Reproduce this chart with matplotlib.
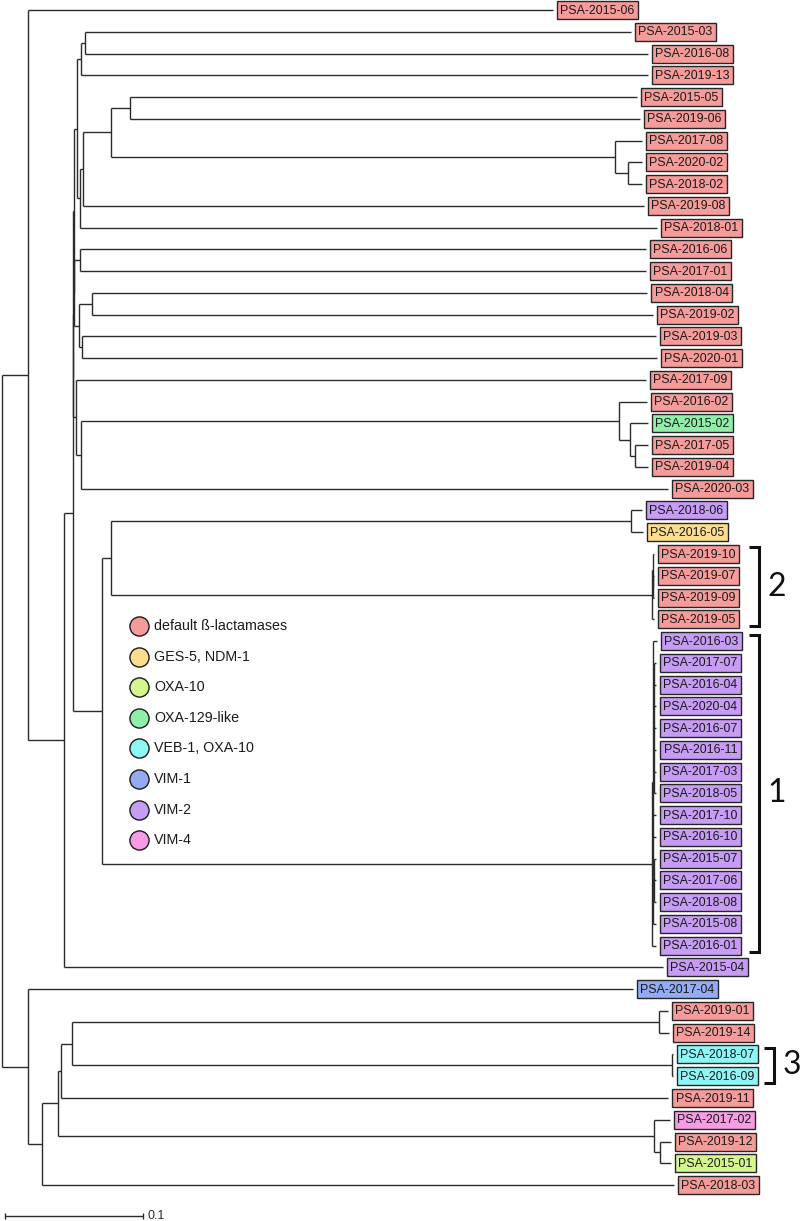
import matplotlib
matplotlib.use("Agg")
import matplotlib.pyplot as plt
from matplotlib.patches import Rectangle

# ---------------- data ----------------
tip_names = [
    "PSA-2015-06", "PSA-2015-03", "PSA-2016-08", "PSA-2019-13", "PSA-2015-05",
    "PSA-2019-06", "PSA-2017-08", "PSA-2020-02", "PSA-2018-02", "PSA-2019-08",
    "PSA-2018-01", "PSA-2016-06", "PSA-2017-01", "PSA-2018-04", "PSA-2019-02",
    "PSA-2019-03", "PSA-2020-01", "PSA-2017-09", "PSA-2016-02", "PSA-2015-02",
    "PSA-2017-05", "PSA-2019-04", "PSA-2020-03", "PSA-2018-06", "PSA-2016-05",
    "PSA-2019-10", "PSA-2019-07", "PSA-2019-09", "PSA-2019-05", "PSA-2016-03",
    "PSA-2017-07", "PSA-2016-04", "PSA-2020-04", "PSA-2016-07", "PSA-2016-11",
    "PSA-2017-03", "PSA-2018-05", "PSA-2017-10", "PSA-2016-10", "PSA-2015-07",
    "PSA-2017-06", "PSA-2018-08", "PSA-2015-08", "PSA-2016-01", "PSA-2015-04",
    "PSA-2017-04", "PSA-2019-01", "PSA-2019-14", "PSA-2018-07", "PSA-2016-09",
    "PSA-2019-11", "PSA-2017-02", "PSA-2019-12", "PSA-2015-01", "PSA-2018-03",
]
tip_parents = [
    "A", "Na", "Na", "Nb", "Nc",
    "Nc", "Ne", "Nd", "Nd", "Ng",
    "Nh", "Nj", "Nj", "Nk", "Nk",
    "Nl", "Nl", "P1", "Nq", "Np",
    "No", "No", "Nr", "Npair", "Npair",
    "G2b", "G2a", "G2a", "G2", "X1",
    "S1", "S1", "S1", "S1", "S1",
    "S1", "S1", "X1", "X1", "S2",
    "S2", "S2", "X1", "G1", "B",
    "F", "Ns1", "Ns1", "Ns2", "Ns2",
    "I", "K", "K2", "K2", "G",
]
tip_depths = [
    0.3993, 0.4558, 0.4681, 0.4681, 0.4601,
    0.4623, 0.4638, 0.4638, 0.4638, 0.4652,
    0.4746, 0.4667, 0.4667, 0.4674, 0.4717,
    0.4739, 0.4746, 0.4667, 0.4674, 0.4681,
    0.4681, 0.4681, 0.4826, 0.4638, 0.4645,
    0.4722, 0.4722, 0.4722, 0.4722, 0.4746,
    0.4739, 0.4739, 0.4739, 0.4739, 0.4739,
    0.4739, 0.4739, 0.4739, 0.4739, 0.4739,
    0.4739, 0.4739, 0.4739, 0.4739, 0.4790,
    0.4572, 0.4826, 0.4833, 0.4862, 0.4862,
    0.4826, 0.4841, 0.4848, 0.4848, 0.4870,
]
tip_classes = (
    ["default ß-lactamases"] * 19 + ["OXA-129-like"] + ["default ß-lactamases"] * 3
    + ["VIM-2", "GES-5, NDM-1"] + ["default ß-lactamases"] * 4 + ["VIM-2"] * 16
    + ["VIM-1", "default ß-lactamases", "default ß-lactamases",
       "VEB-1, OXA-10", "VEB-1, OXA-10", "default ß-lactamases",
       "VIM-4", "default ß-lactamases", "OXA-10", "default ß-lactamases"]
)

node_names = ["R", "A", "B", "C", "U", "Q2", "Ni", "Nb", "Na", "Nh", "Ng", "Nf",
              "Nc", "Ne", "Nd", "Nn", "Nj", "Nm", "Nk", "Nl", "P1", "Nr", "Nq",
              "Np", "No", "D", "E", "Npair", "G2", "G2b", "G2a", "G1", "X1",
              "S1", "S2", "F", "G", "H", "I", "J", "Ns1", "Ns2", "K", "K2"]
node_parents = [None, "R", "A", "B", "C", "U", "Q2", "Ni", "Nb", "Ni", "Nh", "Ng",
                "Nf", "Nf", "Ne", "Q2", "Nn", "Nn", "Nm", "Nm", "U", "P1", "Nr",
                "Nq", "Np", "C", "D", "E", "E", "G2", "G2b", "D", "G1",
                "X1", "X1", "R", "F", "G", "H", "I", "J", "J", "H", "K"]
node_depths = [0.0, 0.0188, 0.0449, 0.0514, 0.0518, 0.0522, 0.0543, 0.0572, 0.0601,
               0.0565, 0.0587, 0.0790, 0.0928, 0.4442, 0.4536, 0.0525, 0.0565,
               0.0558, 0.0652, 0.0580, 0.0536, 0.0572, 0.4471, 0.4551, 0.4587,
               0.0725, 0.0790, 0.4558, 0.4710, 0.4714, 0.4717, 0.4710, 0.4717,
               0.4728, 0.4725, 0.0188, 0.0290, 0.0406, 0.0428, 0.0507, 0.4761,
               0.4855, 0.4725, 0.4768]

legend_labels = ["default ß-lactamases", "GES-5, NDM-1", "OXA-10", "OXA-129-like",
                 "VEB-1, OXA-10", "VIM-1", "VIM-2", "VIM-4"]
legend_colors = ["#F59C9A", "#FCDD90", "#D5F58F", "#90EEA9", "#8FF6F6",
                 "#92ABF3", "#C79CF4", "#F59CE5"]

bracket_labels = ["2", "1", "3"]
bracket_first = ["PSA-2019-10", "PSA-2016-03", "PSA-2018-07"]
bracket_last = ["PSA-2019-05", "PSA-2016-01", "PSA-2016-09"]
scale_value = 0.1

# ---------------- layout ----------------
W, H = 800, 1221
PX = 1380.0          # pixels per unit of distance
ROOT_PX = 2.0
TIP0_PX = 10.0
STEP_PX = 21.76

fig = plt.figure(figsize=(W / 100, H / 100), dpi=100)
ax = fig.add_axes([0, 0, 1, 1])
ax.set_xlim(-ROOT_PX / PX, (W - ROOT_PX) / PX)
ax.set_ylim((H - TIP0_PX) / STEP_PX, -TIP0_PX / STEP_PX)
ax.axis("off")

def px(v):
    return v / PX

def py(v):
    return v / STEP_PX

# tree geometry
depth = dict(zip(node_names, node_depths))
parent = dict(zip(node_names, node_parents))
children = {n: [] for n in node_names}
ypos = {}
for i, (t, p, d) in enumerate(zip(tip_names, tip_parents, tip_depths)):
    depth[t] = d
    parent[t] = p
    children[p].append(t)
    ypos[t] = i
for n in node_names:
    for c in node_names:
        if parent[c] == n:
            children[n].append(c)

def get_y(n):
    if n in ypos:
        return ypos[n]
    ys = [get_y(c) for c in children[n]]
    ypos[n] = (min(ys) + max(ys)) / 2
    return ypos[n]

get_y("R")

line_kw = dict(color="#2b2b2b", lw=1.0)
for n, p in parent.items():
    if p is None:
        continue
    ax.hlines(ypos[n], depth[p], depth[n], **line_kw)
for n in node_names:
    ys = [ypos[c] for c in children[n]]
    ax.vlines(depth[n], min(ys), max(ys), **line_kw)

# tip labels
cmap = dict(zip(legend_labels, legend_colors))
box_w = px(81)
box_h = py(18)
gap = px(4)
for i, (t, d, c) in enumerate(zip(tip_names, tip_depths, tip_classes)):
    x0 = d + gap
    ax.add_patch(Rectangle((x0, i - box_h / 2), box_w, box_h,
                           facecolor=cmap[c], edgecolor="#262626", lw=1.0, zorder=3))
    ax.text(x0 + box_w / 2, i + py(0.5), t, ha="center", va="center",
            fontsize=8.9, family="Liberation Sans", color="#1a1a1a", zorder=4)

# legend
leg_x = px(139 - ROOT_PX)
leg_y0 = py(626 - TIP0_PX)
leg_dy = py(30.6)
for k, (lab, col) in enumerate(zip(legend_labels, legend_colors)):
    yy = leg_y0 + k * leg_dy
    ax.scatter([leg_x], [yy], s=190, facecolor=col, edgecolor="#1a1a1a",
               linewidth=1.0, zorder=5)
    ax.text(leg_x + px(15), yy, lab, ha="left", va="center", fontsize=10.3,
            family="Liberation Sans", color="#1a1a1a")

# brackets
bracket_x = [px(759 - ROOT_PX), px(759 - ROOT_PX), px(774 - ROOT_PX)]
for lab, f, l, bx in zip(bracket_labels, bracket_first, bracket_last, bracket_x):
    y1 = tip_names.index(f) - 0.3
    y2 = tip_names.index(l) + 0.3
    ax.plot([bx - px(10), bx, bx, bx - px(10)], [y1, y1, y2, y2],
            color="#111111", lw=2.2, solid_joinstyle="miter", solid_capstyle="butt")
    ax.text(bx + px(18), (y1 + y2) / 2, lab, ha="center", va="center",
            fontsize=23, family="Lato", color="#111111")

# scale bar
sb_x0 = px(5 - ROOT_PX)
sb_y = py(1216 - TIP0_PX)
ax.hlines(sb_y, sb_x0, sb_x0 + scale_value, color="#2b2b2b", lw=1.0)
ax.vlines([sb_x0, sb_x0 + scale_value], sb_y - 0.12, sb_y + 0.12, color="#2b2b2b", lw=1.0)
ax.text(sb_x0 + scale_value + px(5), sb_y, f"{scale_value:g}", ha="left", va="center",
        fontsize=9, family="Liberation Sans", color="#2b2b2b")

fig.savefig("out.png", dpi=100)
